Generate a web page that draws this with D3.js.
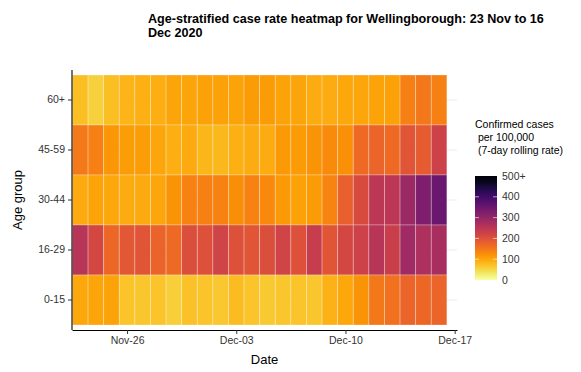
<!DOCTYPE html>
<html>
<head>
<meta charset="utf-8">
<script src="https://cdn.jsdelivr.net/npm/d3@7"></script>
<style>
  html, body { margin: 0; padding: 0; background: #fff; }
  svg { display: block; font-family: "Liberation Sans", Arial, sans-serif; }
</style>
</head>
<body>
<svg id="chart" width="581" height="372"></svg>
<script>
// ---- data ----
const dates = ["2020-11-23","2020-11-24","2020-11-25","2020-11-26","2020-11-27","2020-11-28",
  "2020-11-29","2020-11-30","2020-12-01","2020-12-02","2020-12-03","2020-12-04","2020-12-05",
  "2020-12-06","2020-12-07","2020-12-08","2020-12-09","2020-12-10","2020-12-11","2020-12-12",
  "2020-12-13","2020-12-14","2020-12-15","2020-12-16"];
const ageGroups = ["60+","45-59","30-44","16-29","0-15"];
const rate60plus = [75,55,75,85,88,90,100,100,105,105,103,110,110,102,100,92,93,97,98,103,105,140,150,140];
const rate45to59 = [148,140,115,108,108,98,90,95,83,82,88,92,92,112,110,118,128,122,165,172,165,195,185,225];
const rate30to44 = [95,102,96,93,95,98,118,138,140,138,125,138,130,113,104,110,135,178,210,250,250,290,325,350];
const rate16to29 = [255,215,168,190,195,175,165,205,200,222,200,195,205,222,200,235,195,215,225,255,232,285,268,275];
const rate0to15 = [96,100,102,70,68,70,58,72,70,66,78,70,64,68,70,68,86,97,118,150,158,172,168,172];
const xTickDates = ["2020-11-26","2020-12-03","2020-12-10","2020-12-17"];
const legendTicks = [0,100,200,300,400,500];
const legendTickLabels = ["0","100","200","300","400","500+"];
const titleLines = ["Age-stratified case rate heatmap for Wellingborough: 23 Nov to 16","Dec 2020"];
const legendTitleLines = ["Confirmed cases"," per 100,000"," (7-day rolling rate)"];

const seriesByGroup = {"60+": rate60plus, "45-59": rate45to59, "30-44": rate30to44, "16-29": rate16to29, "0-15": rate0to15};
const parse = d3.utcParse("%Y-%m-%d");
const DAY = 86400000;
const cells = [];
ageGroups.forEach(g => seriesByGroup[g].forEach((v, i) => cells.push({group: g, date: parse(dates[i]), value: v})));

// ---- layout ----
const svg = d3.select("#chart");
const panel = {left: 72, right: 457, top: 70, bottom: 330};
const first = parse(dates[0]);
const x = d3.scaleUtc()
  .domain([new Date(+first - 0.53 * DAY), new Date(+first + 24.15 * DAY)])
  .range([panel.left, panel.right]);
const y = d3.scaleBand().domain(ageGroups).range([75, 325]).padding(0);
const color = v => d3.interpolateInferno(1 - Math.min(v, 500) / 500);
const dayW = x(new Date(+first + DAY)) - x(first);

// grid
svg.append("g").selectAll("line").data(ageGroups).join("line")
  .attr("x1", panel.left).attr("x2", panel.right)
  .attr("y1", d => y(d) + y.bandwidth() / 2).attr("y2", d => y(d) + y.bandwidth() / 2)
  .attr("stroke", "#ebebeb").attr("stroke-width", 1);

// tiles
svg.append("g").selectAll("rect").data(cells).join("rect")
  .attr("x", d => x(d.date) - dayW / 2)
  .attr("y", d => y(d.group))
  .attr("width", dayW)
  .attr("height", y.bandwidth())
  .attr("fill", d => color(d.value))
  .attr("stroke", "#ffffff").attr("stroke-opacity", 0.35).attr("stroke-width", 0.8);

// axes
const xAxis = d3.axisBottom(x).tickValues(xTickDates.map(parse))
  .tickFormat(d3.utcFormat("%b-%d")).tickSize(4).tickSizeOuter(0).tickPadding(3);
const gx = svg.append("g").attr("transform", `translate(0,${panel.bottom})`).call(xAxis);
const yAxis = d3.axisLeft(y).tickSize(4).tickSizeOuter(0).tickPadding(3);
const gy = svg.append("g").attr("transform", `translate(${panel.left},0)`).call(yAxis);
gy.select(".domain").attr("d", `M0,${panel.top}V${panel.bottom}`);
[gx, gy].forEach(g => {
  g.select(".domain").attr("stroke", "#000").attr("stroke-width", 1.1);
  g.selectAll(".tick line").attr("stroke", "#333");
  g.selectAll(".tick text").attr("fill", "#333").attr("font-size", 10.5)
    .attr("font-family", "Liberation Sans, Arial, sans-serif");
});

// axis titles
svg.append("text").attr("x", (panel.left + panel.right) / 2).attr("y", 364)
  .attr("text-anchor", "middle").attr("font-size", 13).attr("fill", "#000").text("Date");
svg.append("text").attr("transform", "translate(22,200) rotate(-90)")
  .attr("text-anchor", "middle").attr("font-size", 13).attr("fill", "#000").text("Age group");

// title
svg.append("g").selectAll("text").data(titleLines).join("text")
  .attr("x", 148).attr("y", (d, i) => 23 + i * 14)
  .attr("font-size", 12.6).attr("font-weight", "bold").attr("fill", "#000").text(d => d);

// legend
const lg = svg.append("g");
lg.selectAll("text.lt").data(legendTitleLines).join("text").attr("class", "lt")
  .attr("x", 475).attr("y", (d, i) => 128 + i * 13).attr("font-size", 10.5).attr("fill", "#000")
  .attr("xml:space", "preserve").style("white-space", "pre").text(d => d);
const legY = d3.scaleLinear().domain([0, 500]).range([280, 176]);
const defs = svg.append("defs");
const grad = defs.append("linearGradient").attr("id", "lgrad").attr("x1", 0).attr("x2", 0).attr("y1", 1).attr("y2", 0);
d3.range(0, 1.0001, 0.05).forEach(t => grad.append("stop").attr("offset", t).attr("stop-color", color(t * 500)));
lg.append("rect").attr("x", 475).attr("y", legY(500)).attr("width", 22).attr("height", legY(0) - legY(500))
  .attr("fill", "url(#lgrad)");
lg.selectAll("line.tl").data(legendTicks.slice(1, -1)).join("line").attr("class", "tl")
  .attr("x1", 475).attr("x2", 479).attr("y1", d => legY(d)).attr("y2", d => legY(d))
  .attr("stroke", "#fff").attr("stroke-opacity", 0.6);
lg.selectAll("line.tr").data(legendTicks.slice(1, -1)).join("line").attr("class", "tr")
  .attr("x1", 493).attr("x2", 497).attr("y1", d => legY(d)).attr("y2", d => legY(d))
  .attr("stroke", "#fff").attr("stroke-opacity", 0.6);
lg.selectAll("text.tk").data(legendTicks).join("text").attr("class", "tk")
  .attr("x", 502).attr("y", d => legY(d)).attr("dy", "0.35em")
  .attr("font-size", 10.5).attr("fill", "#333").text((d, i) => legendTickLabels[i]);
</script>
</body>
</html>
